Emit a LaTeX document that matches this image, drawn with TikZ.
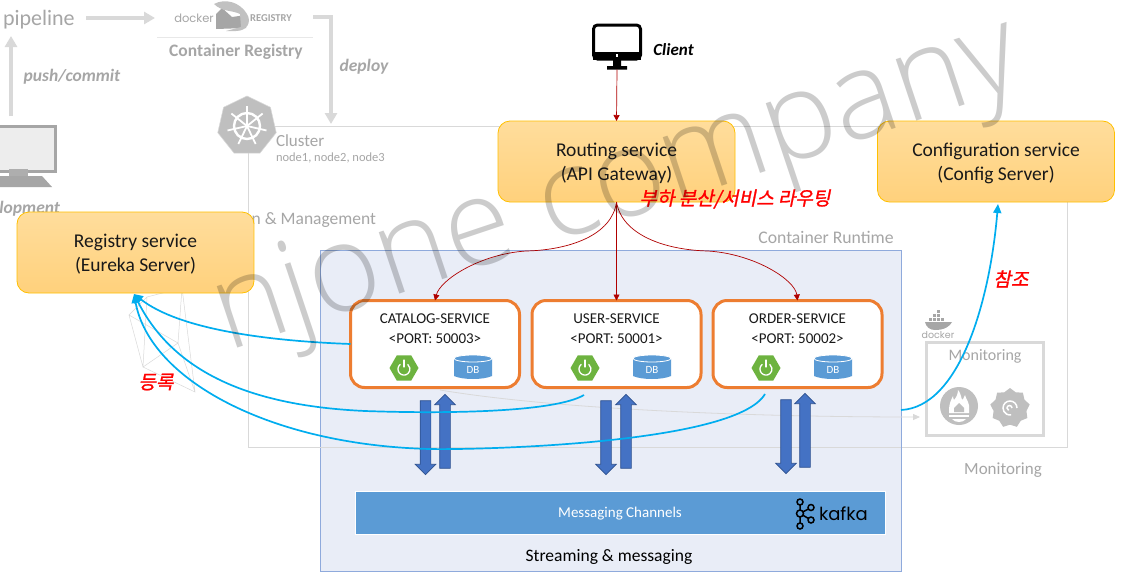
\documentclass[tikz,border=0pt]{standalone}
\usepackage{fontspec}
\setmainfont{Carlito}
\newfontfamily\krfont[FakeSlant=0.2,FakeBold=1.2]{Noto Sans CJK KR}
\newfontfamily\logofont{Poppins}
\newfontfamily\wmfont{Open Sans Light}
\usetikzlibrary{arrows.meta,shapes.geometric,shapes.arrows,calc}
\definecolor{softgray}{HTML}{A6A6A6}
\definecolor{linegray}{HTML}{D9D9D9}
\definecolor{iconGray}{HTML}{BFBFBF}
\definecolor{boxEdge}{HTML}{FFC000}
\definecolor{boxTop}{HTML}{FFDD9C}
\definecolor{boxBottom}{HTML}{FFD17C}
\definecolor{svcOrange}{HTML}{ED7D31}
\definecolor{cyanArrow}{HTML}{00ADEF}
\definecolor{blockBlue}{HTML}{4472C4}
\definecolor{blockEdge}{HTML}{2F528F}
\definecolor{barBlue}{HTML}{5B9BD5}
\definecolor{springGreen}{HTML}{6DB33F}
\definecolor{redLine}{HTML}{B00000}
\definecolor{runtimeEdge}{HTML}{8FAADC}
\definecolor{runtimeFill}{HTML}{E9EDF7}
\tikzset{
  x=1pt,y=-1pt,
  every node/.style={font=\fontsize{17}{20}\selectfont,inner sep=0pt,outer sep=0pt},
  yellowbox/.style={draw=boxEdge,line width=.8pt,rounded corners=12pt,top color=boxTop,bottom color=boxBottom,minimum width=237pt,minimum height=81pt},
  yellowlabel/.style={align=center,font=\fontsize{19.5}{24}\selectfont,text=black!90},
  service/.style={draw=svcOrange,line width=3pt,fill=white,rounded corners=14pt,minimum width=169pt,minimum height=87pt},
  svclabel/.style={font=\fontsize{15}{20}\selectfont,align=center,text=black!90},
  softtext/.style={text=softgray},
  softbold/.style={text=softgray,font=\fontsize{17.5}{20}\selectfont\bfseries},
  softital/.style={text=softgray,font=\fontsize{17.5}{20}\selectfont\bfseries\itshape},
  softarrow/.style={draw=linegray,line width=4pt,-{Triangle[length=11pt,width=12pt]}},
  redarrow/.style={draw=redLine,line width=.7pt,-{Triangle[length=6pt,width=6pt]}},
  regarrow/.style={draw=cyanArrow,line width=1.7pt,-{Triangle[length=9pt,width=8pt]}},
  downblock/.style={single arrow,draw=blockEdge,line width=.7pt,fill=blockBlue,inner sep=5pt,single arrow head extend=5pt,single arrow head indent=0pt,single arrow tip angle=90,minimum height=74pt,shape border rotate=270},
  upblock/.style={downblock,shape border rotate=90},
  redlabel/.style={text=red,font=\fontsize{19}{22}\selectfont\krfont},
  kafkaring/.style={draw=black,line width=1.5pt,circle,minimum size=6pt},
  kafkalink/.style={draw=black,line width=1.5pt},
}
\newcommand{\springicon}[2]{%
  \node[regular polygon,regular polygon sides=6,fill=springGreen,minimum size=29pt] (#2) at (#1) {};
  \draw[white,line width=1.3pt,line cap=round] ($(#1)+(-3.9,-3.5)$) arc[start angle=130,end angle=-130+360+180,radius=6pt];
  \draw[white,line width=1.3pt,line cap=round] ($(#1)+(0,-8)$) -- ($(#1)+(0,-1)$);
}
\newcommand{\dbicon}[2]{%
  \fill[barBlue] ($(#1)+(-19,-9)$) -- ($(#1)+(-19,8)$) .. controls ($(#1)+(-10,12)$) and ($(#1)+(10,12)$) .. ($(#1)+(19,8)$) -- ($(#1)+(19,-9)$) -- cycle;
  \draw[fill=barBlue,draw=white,line width=.8pt] ($(#1)+(0,-9.5)$) ellipse[x radius=19pt,y radius=3.5pt];
  \node[text=white,font=\fontsize{11}{12}\selectfont] (#2) at ($(#1)+(0,2)$) {DB};
}
\begin{document}
\begin{tikzpicture}
\useasboundingbox (0,0) rectangle (1121,573);
\fill[white] (0,0) rectangle (1121,573);

% cluster frame
\node[draw=linegray,line width=1pt,minimum width=819pt,minimum height=321pt] (cluster) at (657.5,286.5) {};

% faint network
\draw[linegray,line width=.5pt] (182,288)--(147,297)--(129,315)--(143,367)--(178,343)--(182,288)--(195,392)--(143,367) (129,315)--(178,343)--(195,392) (147,297)--(143,367);

% container runtime
\node[draw=runtimeEdge,fill=runtimeFill,line width=.9pt,minimum width=581pt,minimum height=321pt] (runtime) at (610.5,410.5) {};
\draw[linegray,line width=.8pt] (runtime.west |- cluster.south) -- (runtime.east |- cluster.south);

% top pipeline (faded)
\node[softtext,anchor=west,font=\fontsize{22}{24}\selectfont] (pipeline) at (3,20) {pipeline};
\node[softbold] (creg) at (236,52) {Container Registry};
\draw[linegray!60,line width=.6pt] (157,37) -- (313,37);
\node[text=softgray,font=\fontsize{11.5}{15}\selectfont\logofont] (dockerword) at (194,18) {docker};
\node[text=softgray,font=\fontsize{10.5}{12}\selectfont\bfseries] (regword) at (271,18) {REGISTRY};
\fill[softgray] (216,14) -- (222,8) -- (232,17) -- (246,15) -- (246,28) -- (216,29) -- cycle;
\fill[softgray!70] (214,4) .. controls (225,-2) and (240,2) .. (247,14) .. controls (252,22) and (247,31) .. (236,31) -- (226,31) -- (241,27) -- (240,14) .. controls (232,10) and (222,12) .. (214,4);
\coordinate (deploystart) at (313,17);
\coordinate (deployend) at (331,124);
\coordinate (pipestart) at (86,18);
\coordinate (pipeend) at (155,18);
\draw[softarrow] (pipestart) -- (pipeend);
\draw[softarrow] (deploystart) -| (deployend);
\coordinate (pushstart) at (11,116);
\coordinate (pushend) at (11,36);
\draw[softarrow] (pushstart) -- (pushend);
\node[softital] (push) at (72,77) {push/commit};
\node[softital] (deploy) at (364,67) {deploy};

% development PC (faded)
\fill[softgray] (0,125) rectangle (57,173);
\fill[white!93!black] (0,128) rectangle (54,170);
\fill[linegray!80!black] (9,169) rectangle (28,176);
\fill[softgray] (0,176) -- (42,176) -- (52,187) -- (0,187) -- cycle;
\node[softital,anchor=east] (devlabel) at (60,209) {lopment};

% kubernetes
\node[regular polygon,regular polygon sides=7,fill=iconGray,draw=linegray,line width=.5pt,minimum size=60pt] (k8s) at (247,126) {};
\draw[white,line width=2.4pt] (k8s.center) circle[radius=13pt];
\foreach \a in {90,141.4,192.9,244.3,295.7,347.1,38.6}
  \draw[white,line width=1.8pt] (k8s.center) -- ++(\a:20pt);
\node[softtext,anchor=west] (clusterlabel) at (276,141) {Cluster};
\node[softtext,anchor=west,font=\fontsize{12.5}{14}\selectfont] (nodeslabel) at (276,157.5) {node1, node2, node3};
\node[softtext,anchor=east,font=\fontsize{17.5}{20}\selectfont] (mgmt) at (376,220.5) {n \& Management};
\node[softtext,font=\fontsize{17.7}{20}\selectfont] (crlabel) at (826,237.5) {Container Runtime};

% monitoring (faded)
\node[draw=linegray,line width=3pt,minimum width=117pt,minimum height=93pt] (monbox) at (984.5,389) {};
\node[softtext,font=\fontsize{16}{18}\selectfont] (monlabel) at (985,356) {Monitoring};
\node[softtext] (monout) at (1003,470) {Monitoring};
\node[circle,fill=iconGray,minimum size=38pt] (prom) at (959,406) {};
\fill[white] (949,413) -- (969,413) -- (969,410) .. controls (970,402) and (966,400) .. (965,395) .. controls (964,398) and (963,399) .. (962,400) .. controls (961,396) and (960,392) .. (958,390) .. controls (958,394) and (956,398) .. (954,400) .. controls (953,398) and (953,397) .. (953,396) .. controls (951,400) and (949,404) .. (949,410) -- cycle;
\fill[iconGray] (954,412) -- (964,412) -- (964,408) -- (959,403) -- (954,408) -- cycle;
\fill[white] (949,415) rectangle (969,417);
\fill[white] (952,419) .. controls (955,423) and (963,423) .. (966,419) -- cycle;
\node[star,star points=9,star point ratio=1.2,fill=iconGray,minimum size=40pt] (grafana) at (1010,408) {};
\draw[white,line width=1.5pt] (1017,408) arc[start angle=0,end angle=280,radius=7pt] (1012,408) arc[start angle=0,end angle=250,radius=2.5pt];
\node[text=softgray,font=\fontsize{9.5}{11}\selectfont\logofont] (dockerlabel) at (938,335) {docker};
\fill[softgray] (925,322) -- (952,322) .. controls (950,326) and (945,330) .. (935,330) .. controls (930,330) and (926,327) .. (925,322) -- cycle;
\foreach \bx/\by in {929/318,933/318,937/318,941/318,933/314,937/314,937/310}
  \fill[softgray] (\bx,\by) rectangle ++(3.2,3.2);
\coordinate (gstart) at (440,390);
\coordinate (gend) at (920,417);
\draw[linegray,line width=.8pt,-{Triangle[length=7pt,width=6pt]}] (gstart) .. controls (560,410) and (760,417) .. (gend);

% yellow boxes
\node[yellowbox] (routing) at (616.5,161.5) {};
\node[yellowbox] (config) at (996,161.5) {};
\node[yellowbox] (registry) at (135.5,252.5) {};
\node[yellowlabel] (routinglabel) at (616.5,163) {Routing service\\(API Gateway)};
\node[yellowlabel] (configlabel) at (996,163) {Configuration service\\(Config Server)};
\node[yellowlabel] (registrylabel) at (135.5,254) {Registry service\\(Eureka Server)};

% services
\node[service] (catalog) at (435,344) {};
\node[service] (user) at (616.5,344) {};
\node[service] (order) at (797.5,344) {};
\node[svclabel] (cataloglabel) at (435,329) {CATALOG-SERVICE\\<PORT: 50003>};
\node[svclabel] (userlabel) at (616.5,329) {USER-SERVICE\\<PORT: 50001>};
\node[svclabel] (orderlabel) at (797.5,329) {ORDER-SERVICE\\<PORT: 50002>};
\springicon{404,368}{spring1}
\springicon{585,368}{spring2}
\springicon{766,368}{spring3}
\dbicon{473,368}{db1}
\dbicon{652,368}{db2}
\dbicon{833,368}{db3}

% block arrows
\node[downblock] (d1) at (425.5,435) {};
\node[upblock] (u1) at (445,434) {};
\node[downblock] (d2) at (606,435) {};
\node[upblock] (u2) at (626,434) {};
\node[downblock] (d3) at (786,434) {};
\node[upblock] (u3) at (805,433) {};

% kafka bar
\node[draw=white,line width=1pt,fill=barBlue,minimum width=530pt,minimum height=43pt] (bar) at (620,512.5) {};
\node[text=white,font=\fontsize{15}{16}\selectfont] (barlabel) at (620,514) {Messaging Channels};
\node[kafkaring] (k1) at (800,502) {};
\node[kafkaring,minimum size=7pt] (k2) at (800,513.5) {};
\node[kafkaring] (k3) at (800,526) {};
\node[kafkaring] (k4) at (811,507.5) {};
\node[kafkaring] (k5) at (811,520) {};
\draw[kafkalink] (k1)--(k2) (k2)--(k3) (k2)--(k4) (k2)--(k5);
\node[anchor=west,text=black,font=\fontsize{18}{22}\selectfont\logofont] (kafkaword) at (819,514) {kafka};
\node[font=\fontsize{17.5}{20}\selectfont] (streaming) at (609,556.5) {Streaming \& messaging};

% client
\node[draw=black,line width=3pt,fill=white,rounded corners=4pt,minimum width=47pt,minimum height=34pt] (client) at (617,42) {};
\fill[black] (593,52) rectangle (641,60);
\fill[white] (616,54) rectangle (618,57);
\fill[black] (613,60) rectangle (621,66) (607,66) rectangle (627,69.5);
\node[font=\fontsize{17}{20}\selectfont\bfseries\itshape] (clientlabel) at (673.5,50) {Client};
\coordinate (clientbot) at (617,69.5);

% connectors
\coordinate (leftbend) at (526,251);
\coordinate (rightbend) at (708,251);
\draw[redarrow] (clientbot) -- (routing.north);
\draw[redarrow] (routing.south) .. controls (612,235) and (570,250) .. (leftbend) .. controls (480,254) and (440,280) .. (catalog.north);
\draw[redarrow] (routing.south) -- (user.north);
\draw[redarrow] (routing.south) .. controls (622,235) and (665,250) .. (rightbend) .. controls (755,254) and (795,280) .. (order.north);

\coordinate (regin) at (134,294);
\coordinate (userout) at (584,395);
\coordinate (orderout) at (765,394);
\coordinate (cfgout) at (901,410);
\coordinate (cfgin) at (998,204);
\draw[regarrow] (catalog.west) .. controls (270,341) and (180,330) .. (regin);
\draw[regarrow] (userout) .. controls (555,412) and (450,414) .. (365,411) .. controls (255,406) and (175,375) .. (regin);
\draw[regarrow] (orderout) .. controls (735,445) and (470,450) .. (430,449) .. controls (270,445) and (150,380) .. (regin);
\draw[regarrow] (cfgout) .. controls (960,407) and (990,300) .. (cfgin);

% red labels
\node[redlabel] (lbroute) at (735,199) {부하 분산/서비스 라우팅};
\node[redlabel] (lbjoin) at (1011,279) {참조};
\node[redlabel] (lbreg) at (156,382) {등록};

% watermark
\node[rotate=18.5,text=black,opacity=.2,font=\fontsize{122}{122}\selectfont\wmfont] (watermark) at (618,190) {njone company};
\end{tikzpicture}
\end{document}
